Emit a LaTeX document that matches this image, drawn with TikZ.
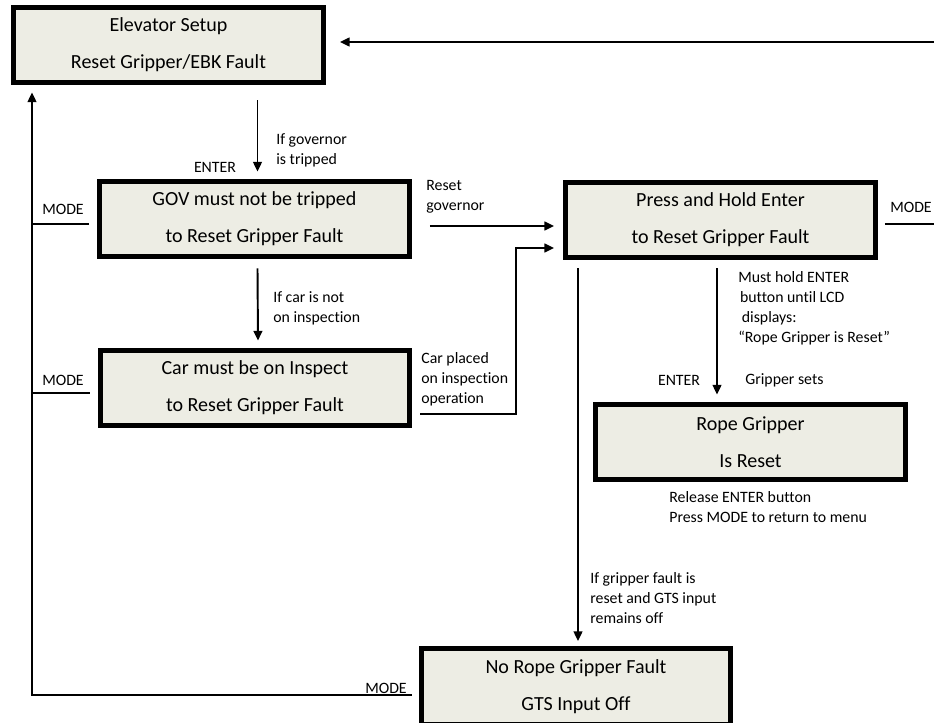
\documentclass[tikz,border=0pt]{standalone}
\usepackage{fontspec}
\setmainfont{Carlito}[Ligatures=NoCommon]
\usetikzlibrary{arrows.meta,calc}
\definecolor{boxfill}{RGB}{237,237,228}
\newcommand\boxfont{\fontsize{11.4}{21}\selectfont}
\newcommand\lblfont{\fontsize{9}{11.4}\selectfont}
\tikzset{
  statebox/.style={draw=black, line width=0.1cm, fill=boxfill,
    minimum width=6.2cm, minimum height=1.52cm, inner sep=0pt,
    align=center, font=\boxfont},
  lbl/.style={inner sep=0pt, align=left, font=\lblfont},
  conn/.style={line width=1.1pt},
  arr/.style={conn, -{Triangle[length=5.5pt,width=5pt]}},
}
\begin{document}
\begin{tikzpicture}[x=0.02cm, y=-0.02cm]
\useasboundingbox (0,0) rectangle (934,723);
\clip (0,0) rectangle (934,723);

% state boxes
\node[statebox] (elev)   at (168.5,45)  {Elevator Setup\\Reset Gripper/EBK Fault};
\node[statebox] (gov)    at (254.5,219) {GOV must not be tripped\\to Reset Gripper Fault};
\node[statebox] (car)    at (255,388)   {Car must be on Inspect\\to Reset Gripper Fault};
\node[statebox] (press)  at (720.5,220) {Press and Hold Enter\\to Reset Gripper Fault};
\node[statebox] (rope)   at (750.5,442) {Rope Gripper\\Is Reset};
\node[statebox] (norope) at (576,686.5) {No Rope Gripper Fault\\GTS Input Off};

% transitions
\draw[arr] ($(elev.south -| gov.north)+(3,15)$) -- ($(gov.north)+(3,-7)$);
\draw[arr] ($(gov.south)+(3,9)$) -- ($(car.north)+(3,-7)$);
\draw[arr] ($(gov.east)+(18,7)$) -- ($(press.west)+(-9,6)$);
\draw[arr] ($(car.east)+(8,26)$) -| ($(press.west)+(-47,28)$) -- ($(press.west)+(-9,28)$);
\draw[arr] ($(press.south)+(-3.5,8)$) -- ($(rope.north)+(-33.5,-7)$);
\draw[arr] ($(press.south)+(-142.5,8)$) -- ($(norope.north)+(2,-5)$);

% MODE returns to the setup menu
\draw[arr] ($(norope.west)+(-7,8.5)$) -| ($(elev.south)+(-136.5,7)$);
\draw[conn] ($(gov.west)+(-8,5)$) -- ++(-57,0);
\draw[conn] ($(car.west)+(-8,5)$) -- ++(-57.5,0);
\coordinate (rtop) at ($(elev.east)+(616,-3)$);
\draw[arr] ($(press.east)+(7,4)$) -| (rtop) -- ($(elev.east)+(14,-3)$);

% labels
\node[lbl] (enter1) at (215,167) {ENTER};
\node[lbl, anchor=west] (govlbl) at (276,150) {If governor\\is tripped};
\node[lbl] (mode1) at (63,209) {MODE};
\node[lbl] (mode2) at (63,380) {MODE};
\node[lbl] (mode3) at (911,207) {MODE};
\node[lbl] (mode4) at (386,688) {MODE};
\node[lbl, anchor=west] (resetgov) at (426,197) {Reset\\governor};
\node[lbl, anchor=west] (carplaced) at (421,379) {Car placed\\on inspection\\operation};
\node[lbl, anchor=west] (carnot) at (273,308) {If car is not\\on inspection};
\node[lbl, anchor=west] (musthold) at (738,308) {Must hold ENTER\\\hspace{1pt}button until LCD\\\hspace{2pt}displays:\\``Rope Gripper is Reset''};
\node[lbl] (enter2) at (679,380) {ENTER};
\node[lbl, anchor=west] (grippersets) at (745,380) {Gripper sets};
\node[lbl, anchor=west] (release) at (669,507) {Release ENTER button\\Press MODE to return to menu};
\node[lbl, anchor=west] (ifgripper) at (590,598) {If gripper fault is\\reset and GTS input\\remains off};
\end{tikzpicture}
\end{document}
